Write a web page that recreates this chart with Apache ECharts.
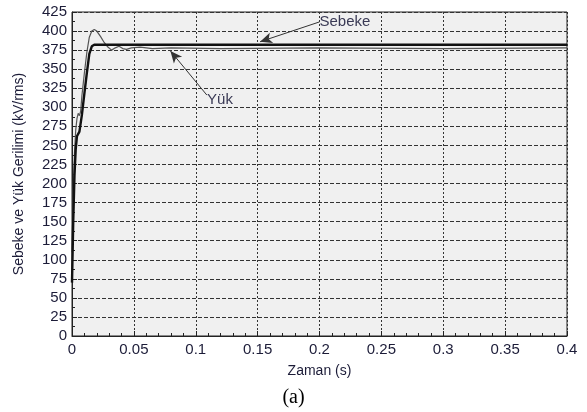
<!DOCTYPE html>
<html>
<head>
<meta charset="utf-8">
<script src="https://cdn.jsdelivr.net/npm/echarts@6/dist/echarts.min.js"></script>
<style>
  html, body { margin: 0; padding: 0; background: #fff; }
  #main { width: 587px; height: 412px; }
</style>
</head>
<body>
<div id="main"></div>
<script>
// veriler
var sebekeData = [
  [0, 70], [0.001, 150], [0.002, 210], [0.003, 245], [0.004, 262], [0.006, 268],
  [0.008, 290], [0.010, 318], [0.012, 345], [0.014, 370], [0.016, 380], [0.018, 382],
  [0.4, 382]
];
var yukData = [
  [0, 110], [0.001, 190], [0.002, 240], [0.003, 270], [0.004, 285], [0.005, 292],
  [0.006, 289], [0.007, 295], [0.008, 315], [0.010, 345], [0.012, 372], [0.014, 392],
  [0.016, 400], [0.018, 402], [0.020, 400], [0.023, 393], [0.026, 385], [0.029, 379],
  [0.032, 375], [0.035, 378], [0.038, 380], [0.041, 377], [0.044, 376], [0.048, 378],
  [0.055, 379], [0.065, 377], [0.08, 378], [0.12, 377], [0.2, 378], [0.3, 377], [0.4, 378]
];
var xTicks = { min: 0, max: 0.4, step: 0.05 };
var yTicks = { min: 0, max: 425, step: 25 };

var txtColor = '#1c1c38';
var font = 'Liberation Sans, Arial, sans-serif';

var myChart = echarts.init(document.getElementById('main'));

var option = {
  backgroundColor: '#ffffff',
  animation: false,
  title: {
    text: '(a)',
    left: 'center',
    top: 383,
    textStyle: { fontFamily: 'Liberation Serif, Times New Roman, serif', fontSize: 20, fontWeight: 'normal', color: '#000' }
  },
  grid: {
    left: 72, right: 20, top: 12, bottom: 76,
    show: true,
    backgroundColor: '#f0f0f0',
    borderColor: '#222',
    borderWidth: 1
  },
  xAxis: {
    type: 'value',
    min: xTicks.min, max: xTicks.max, interval: xTicks.step,
    name: 'Zaman (s)',
    nameLocation: 'middle',
    nameGap: 28,
    nameTextStyle: { fontFamily: font, fontSize: 14, color: txtColor },
    axisLine: { lineStyle: { color: '#222' } },
    axisTick: { inside: true, length: 5, lineStyle: { color: '#222' } },
    minorTick: { show: true, splitNumber: 5, length: 3, lineStyle: { color: '#222' } },
    axisLabel: { fontFamily: font, fontSize: 15, color: txtColor, margin: 6 },
    splitLine: { show: true, lineStyle: { color: '#333', type: [2, 2], width: 1 } }
  },
  yAxis: {
    type: 'value',
    min: yTicks.min, max: yTicks.max, interval: yTicks.step,
    name: 'Sebeke ve Yük Gerilimi (kV/rms)',
    nameLocation: 'middle',
    nameGap: 46,
    nameTextStyle: { fontFamily: font, fontSize: 14, color: txtColor },
    axisLine: { lineStyle: { color: '#222' } },
    axisTick: { inside: true, length: 5, lineStyle: { color: '#222' } },
    minorTick: { show: true, splitNumber: 2, length: 3, lineStyle: { color: '#222' } },
    axisLabel: { fontFamily: font, fontSize: 15, color: txtColor, margin: 5 },
    splitLine: { show: true, lineStyle: { color: '#333', type: [4, 2], width: 1 } }
  },
  series: [
    {
      name: 'Yük',
      type: 'line',
      data: yukData,
      symbol: 'none',
      lineStyle: { color: '#555', width: 1.2 },
      z: 3,
      markLine: {
        silent: true,
        symbol: ['none', 'arrow'],
        symbolSize: [8, 12],
        label: { show: false },
        lineStyle: { color: '#333', width: 1, type: 'solid' },
        data: [
          [{ coord: [0.109, 316] }, { coord: [0.0795, 374] }]
        ]
      },
      markPoint: {
        silent: true,
        symbolSize: 0,
        label: { show: true, formatter: 'Yük', fontFamily: font, fontSize: 15, color: '#3a3a55' },
        data: [{ coord: [0.1196, 310] }]
      }
    },
    {
      name: 'Sebeke',
      type: 'line',
      data: sebekeData,
      symbol: 'none',
      lineStyle: { color: '#111', width: 2.4 },
      z: 4,
      markLine: {
        silent: true,
        symbol: ['none', 'arrow'],
        symbolSize: [8, 12],
        label: { show: false },
        lineStyle: { color: '#333', width: 1, type: 'solid' },
        data: [
          [{ coord: [0.2, 412] }, { coord: [0.152, 386] }]
        ]
      },
      markPoint: {
        silent: true,
        symbolSize: 0,
        label: { show: true, formatter: 'Sebeke', position: 'right', distance: 0, fontFamily: font, fontSize: 15, color: '#3a3a55' },
        data: [{ coord: [0.2, 412] }]
      }
    }
  ]
};

myChart.setOption(option);
</script>
</body>
</html>
